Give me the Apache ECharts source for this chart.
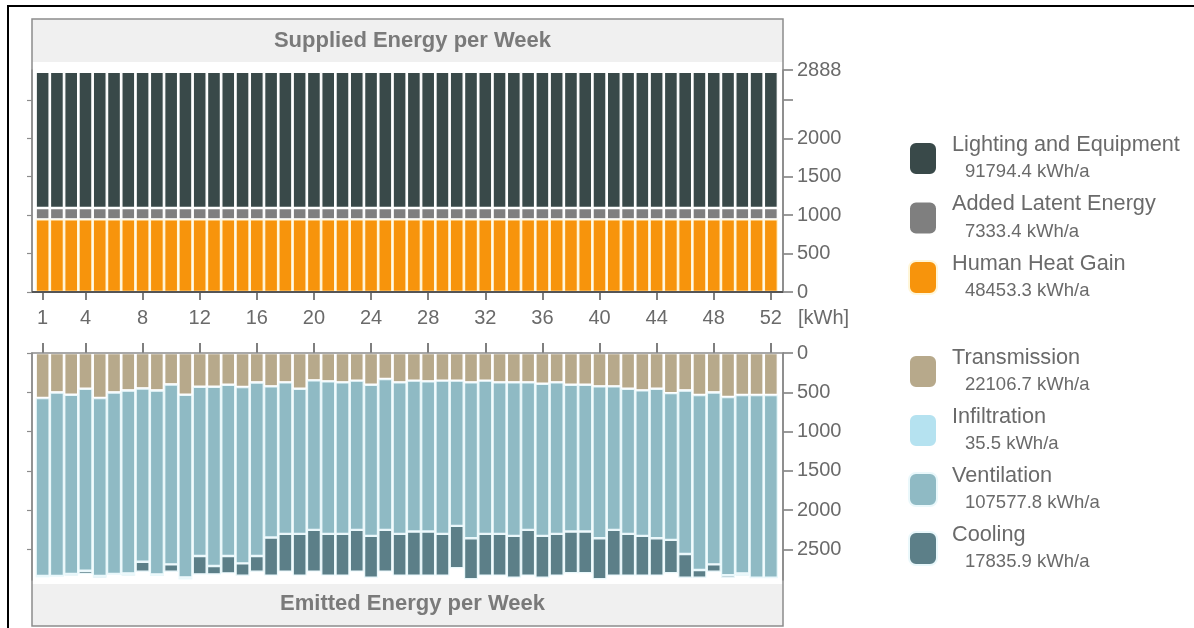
<!DOCTYPE html>
<html>
<head>
<meta charset="utf-8">
<style>
  html, body { margin: 0; padding: 0; background: #fff; }
  #chart { width: 1194px; height: 628px; }
</style>
<script src="https://cdn.jsdelivr.net/npm/echarts@6/dist/echarts.min.js"></script>
</head>
<body>
<div id="chart"></div>
<script>
// ---------- data ----------
const weeks = ['1','2','3','4','5','6','7','8','9','10','11','12','13','14','15','16','17','18','19','20','21','22','23','24','25','26','27','28','29','30','31','32','33','34','35','36','37','38','39','40','41','42','43','44','45','46','47','48','49','50','51','52'];
const weekTickLabels = [1, 4, 8, 12, 16, 20, 24, 28, 32, 36, 40, 44, 48, 52];

const supplyTicks = [0, 500, 1000, 1500, 2000, 2500, 2888];
const supplyTickLabels = [0, 500, 1000, 1500, 2000, 2888];
const emitTicks = [0, 500, 1000, 1500, 2000, 2500];

// Supplied energy per week [kWh]
const humanHeatGain = [945,945,945,945,945,945,945,945,945,945,945,945,945,945,945,945,945,945,945,945,945,945,945,945,945,945,945,945,945,945,945,945,945,945,945,945,945,945,945,945,945,945,945,945,945,945,945,945,945,945,945,945];
const addedLatent   = [148,148,148,148,148,148,148,148,148,148,148,148,148,148,148,148,148,148,148,148,148,148,148,148,148,148,148,148,148,148,148,148,148,148,148,148,148,148,148,148,148,148,148,148,148,148,148,148,148,148,148,148];
const lightingEquip = [1773,1773,1773,1773,1773,1773,1773,1773,1773,1773,1773,1773,1773,1773,1773,1773,1773,1773,1773,1773,1773,1773,1773,1773,1773,1773,1773,1773,1773,1773,1773,1773,1773,1773,1773,1773,1773,1773,1773,1773,1773,1773,1773,1773,1773,1773,1773,1773,1773,1773,1773,1773];

// Emitted energy per week [kWh]
const transmission = [573,501,531,454,573,501,476,450,476,399,531,429,429,403,433,374,425,374,454,348,361,374,352,403,331,374,352,361,352,352,374,352,374,374,374,391,374,403,403,425,425,454,476,454,510,476,535,501,560,535,535,535];
const infiltration = [1.5,1.5,1.5,1.5,1.5,1.5,1.5,1.5,1.5,1.5,1.5,1.5,1.5,1.5,1.5,1.5,0,0,0,0,0,0,0,0,0,0,0,0,0,0,0,0,0,0,0,0,0,0,0,0,0,0,0,0,0,1.5,1.5,1.5,1.5,1.5,1.5,1.5];
const ventilation  = [2263,2335,2280,2314,2263,2310,2326,2204,2339,2289,2322,2153,2280,2179,2242,2208,1923,1927,1847,1902,1940,1927,1898,1924,1919,1927,1919,1910,1949,1847,1983,1949,1927,1953,1876,1936,1927,1868,1868,1932,1825,1847,1851,1903,1868,2080,2225,2187,2264,2267,2323,2323];
const cooling      = [17,0,21,43,22,0,30,127,21,93,26,233,106,220,157,199,484,480,531,531,531,531,531,531,531,531,561,561,531,540,522,531,531,531,582,531,531,531,531,522,582,531,505,475,424,302,98,93,34,30,0,0];

// Annual totals shown in legend [kWh/a]
const supplyNames  = ['Lighting and Equipment', 'Added Latent Energy', 'Human Heat Gain'];
const supplyTotals = [91794.4, 7333.4, 48453.3];
const emitNames    = ['Transmission', 'Infiltration', 'Ventilation', 'Cooling'];
const emitTotals   = [22106.7, 35.5, 107577.8, 17835.9];

// ---------- chart ----------
const FONT = "'Liberation Sans', Arial, Helvetica, sans-serif";
const TXT = '#6a6a6a';
const totals = {};
supplyNames.forEach((n, i) => totals[n] = supplyTotals[i]);
emitNames.forEach((n, i) => totals[n] = emitTotals[i]);

const showWeek = (idx, val) => weekTickLabels.indexOf(Number(weeks[idx])) >= 0;

const chart = echarts.init(document.getElementById('chart'), null, { renderer: 'canvas' });

const legendText = {
  fontFamily: FONT,
  color: TXT,
  rich: {
    n: { fontFamily: FONT, fontSize: 21.7, lineHeight: 27, color: TXT, padding: [0, 0, 0, 10] },
    v: { fontFamily: FONT, fontSize: 18.5, lineHeight: 27, color: TXT, padding: [0, 0, 0, 23] }
  }
};
const legendFmt = name => '{n|' + name + '}\n{v|' + totals[name].toFixed(1) + ' kWh/a}';

const rightAxisBase = {
  type: 'value', position: 'right', offset: 5, min: 0, max: 2888, interval: 500,
  axisLine: { show: true, lineStyle: { color: '#7a7a7a', width: 1.5 } },
  axisTick: { show: true, inside: false, length: 10, lineStyle: { color: '#7a7a7a', width: 1.5 } },
  splitLine: { show: false },
  axisLabel: { margin: 14, fontSize: 20, fontFamily: FONT, color: TXT }
};
const leftAxisBase = {
  type: 'value', position: 'left', offset: 3.5, min: 0, max: 2888, interval: 500,
  axisLine: { show: true, lineStyle: { color: '#8c8c8c', width: 1.5 } },
  axisTick: { show: true, length: 5, lineStyle: { color: '#8c8c8c', width: 1.2 } },
  axisLabel: { show: false },
  splitLine: { show: false }
};

const barBase = (name, data, color, xi, yi, stack, border) => ({
  name, type: 'bar', data, stack, xAxisIndex: xi, yAxisIndex: yi,
  barCategoryGap: '2%',
  itemStyle: { color, borderColor: border || '#ffffff', borderWidth: 1.2 },
  emphasis: { disabled: true },
  animation: false
});

const option = {
  backgroundColor: '#ffffff',
  animation: false,
  textStyle: { fontFamily: FONT },
  title: [
    { text: 'Supplied Energy per Week', left: 407.5, top: 25, textAlign: 'center',
      textStyle: { fontFamily: FONT, fontSize: 22, fontWeight: 'bold', color: '#7a7a7a' } },
    { text: 'Emitted Energy per Week', left: 407.5, top: 588, textAlign: 'center',
      textStyle: { fontFamily: FONT, fontSize: 22, fontWeight: 'bold', color: '#7a7a7a' } }
  ],
  legend: [
    { data: supplyNames, orient: 'vertical', left: 908, top: 134, padding: 0,
      itemWidth: 28, itemHeight: 33, itemGap: 12, icon: 'roundRect',
      selectedMode: true, formatter: legendFmt, textStyle: legendText },
    { data: emitNames, orient: 'vertical', left: 908, top: 347, padding: 0,
      itemWidth: 28, itemHeight: 33, itemGap: 11.5, icon: 'roundRect',
      selectedMode: true, formatter: legendFmt, textStyle: legendText }
  ],
  grid: [
    { left: 35.5, top: 70, width: 742.5, height: 222 },
    { left: 35.5, top: 353, width: 742.5, height: 227 }
  ],
  xAxis: [
    { type: 'category', gridIndex: 0, data: weeks, position: 'bottom',
      axisLine: { show: false },
      axisTick: { show: true, alignWithLabel: true, interval: showWeek, length: 8, lineStyle: { color: '#555', width: 1.5 } },
      axisLabel: { interval: showWeek, margin: 16, fontSize: 20, fontFamily: FONT, color: TXT } },
    { type: 'category', gridIndex: 1, data: weeks, position: 'top',
      axisLine: { show: false },
      axisTick: { show: true, alignWithLabel: true, interval: showWeek, length: 10, lineStyle: { color: '#555', width: 1.5 } },
      axisLabel: { show: false } }
  ],
  yAxis: [
    Object.assign({}, rightAxisBase, { gridIndex: 0,
      axisTick: Object.assign({}, rightAxisBase.axisTick, { customValues: supplyTicks }),
      axisLabel: Object.assign({}, rightAxisBase.axisLabel, { customValues: supplyTickLabels,
        formatter: v => (supplyTickLabels.indexOf(v) >= 0 ? String(v) : '') }) }),
    Object.assign({}, leftAxisBase, { gridIndex: 0,
      axisTick: Object.assign({}, leftAxisBase.axisTick, { customValues: supplyTicks.slice(0, 6) }) }),
    Object.assign({}, rightAxisBase, { gridIndex: 1, inverse: true,
      axisTick: Object.assign({}, rightAxisBase.axisTick, { customValues: emitTicks }),
      axisLabel: Object.assign({}, rightAxisBase.axisLabel, { customValues: emitTicks,
        formatter: v => (emitTicks.indexOf(v) >= 0 ? String(v) : '') }) }),
    Object.assign({}, leftAxisBase, { gridIndex: 1, inverse: true,
      axisTick: Object.assign({}, leftAxisBase.axisTick, { customValues: emitTicks }) })
  ],
  series: [
    barBase('Human Heat Gain', humanHeatGain, '#f7940c', 0, 0, 'sup', '#fff6d8'),
    barBase('Added Latent Energy', addedLatent, '#7f7f7f', 0, 0, 'sup'),
    barBase('Lighting and Equipment', lightingEquip, '#394949', 0, 0, 'sup'),
    barBase('Transmission', transmission, '#b7a98b', 1, 2, 'emit'),
    barBase('Infiltration', infiltration, '#b5e2f0', 1, 2, 'emit'),
    barBase('Ventilation', ventilation, '#8fbac4', 1, 2, 'emit', '#eaf8fb'),
    barBase('Cooling', cooling, '#5c7f88', 1, 2, 'emit', '#eaf8fb')
  ],
  graphic: [
    // outer border of the picture
    { type: 'polyline', z: 100, shape: { points: [[8, 628], [8, 6], [1194, 6]] }, style: { stroke: '#000', lineWidth: 2, fill: null } },
    // top panel title band and frame
    { type: 'rect', z: -10, shape: { x: 32, y: 19, width: 751, height: 43 }, style: { fill: '#f0f0f0' } },
    { type: 'rect', z: 100, shape: { x: 32, y: 19, width: 751, height: 273 }, style: { fill: null, stroke: '#8c8c8c', lineWidth: 1.5 } },
    { type: 'line', z: 101, shape: { x1: 32, y1: 292, x2: 783, y2: 292 }, style: { stroke: '#555', lineWidth: 2 } },
    // bottom panel title band and frame
    { type: 'rect', z: -10, shape: { x: 32, y: 584, width: 751, height: 42 }, style: { fill: '#f0f0f0' } },
    { type: 'rect', z: 100, shape: { x: 32, y: 353, width: 751, height: 273 }, style: { fill: null, stroke: '#8c8c8c', lineWidth: 1.5 } },
    // unit label
    { type: 'text', z: 100, style: { x: 798, y: 318, text: '[kWh]', fill: TXT, font: '20px ' + FONT, verticalAlign: 'middle' } }
  ]
};

chart.setOption(option);
</script>
</body>
</html>
